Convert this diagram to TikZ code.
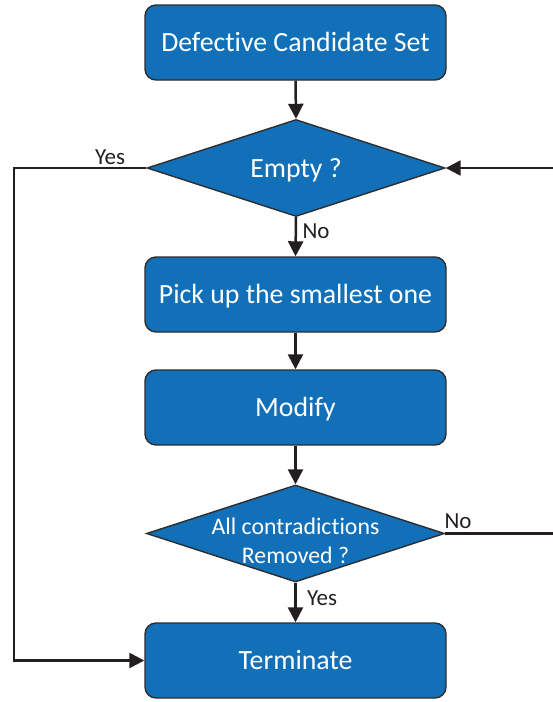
\documentclass[tikz,border=0pt]{standalone}
\usepackage{fontspec}
\setmainfont{Carlito}[Ligatures=NoCommon]
\usetikzlibrary{shapes.geometric,arrows.meta,calc}
\definecolor{boxblue}{RGB}{18,112,184}
\definecolor{edgegray}{RGB}{45,45,48}
\definecolor{linedark}{RGB}{35,31,32}
\tikzset{
  stepbox/.style={draw=edgegray, line width=1.4pt, fill=boxblue, rounded corners=11pt,
    minimum width=301pt, minimum height=75pt, inner sep=0pt, text=white,
    text height=22pt, text depth=4pt,
    font=\fontsize{27.8}{33}\selectfont},
  decision/.style={draw=edgegray, line width=1.4pt, fill=boxblue, shape=diamond,
    minimum width=298pt, minimum height=97pt, inner sep=0pt},
  dtext/.style={text=white, align=center, inner sep=0pt},
  flow/.style={draw=linedark, line width=2.5pt,
    -{Triangle[length=15pt,width=15pt]}},
  plainflow/.style={draw=linedark, line width=2.5pt},
  lbl/.style={text=linedark, font=\fontsize{23}{27}\selectfont, inner sep=0pt}
}
\begin{document}
\begin{tikzpicture}[x=1pt,y=-1pt]
  \useasboundingbox (0,0) rectangle (552,702);

  % process boxes and decisions
  \node[stepbox] (b1) at (295.5,42.5) {Defective Candidate Set};
  \node[decision] (d1) at (296,168) {};
  \node[dtext, text height=22pt, text depth=4pt,
        font=\fontsize{27.8}{33}\selectfont] (d1t) at (d1) {Empty ?};
  \node[stepbox] (b2) at (295.5,294.5) {Pick up the smallest one};
  \node[stepbox] (b3) at (295.5,407.5) {Modify};
  \node[decision] (d2) at (295.5,533.5) {};
  \node[dtext, font=\fontsize{23.8}{28.5}\selectfont] (d2t) at ($(d2)+(0,7.5)$)
        {All contradictions\\Removed ?};
  \node[stepbox] (t) at (295.5,660.5) {Terminate};

  % loop ends leaving the right edge
  \coordinate (lc) at (14,168);
  \coordinate (re1) at (553,168);
  \coordinate (re2) at (553,533.5);

  % main flow
  \draw[flow] (b1.south) -- (d1.north);
  \draw[flow] (d1.south) -- (b2.north);
  \draw[flow] (b2.south) -- (b3.north);
  \draw[flow] (b3.south) -- (d2.north);
  \draw[flow] (d2.south) -- (t.north);

  % branches
  \draw[flow] (d1.west) -- (lc) |- (t.west);
  \draw[flow] (re1) -- (d1.east);
  \draw[plainflow] (d2.east) -- (re2);

  % branch labels
  \node[lbl] (yes1) at (110,157) {Yes};
  \node[lbl] (no1) at (316,231) {No};
  \node[lbl] (no2) at (458,521) {No};
  \node[lbl] (yes2) at (322,598) {Yes};
\end{tikzpicture}
\end{document}
